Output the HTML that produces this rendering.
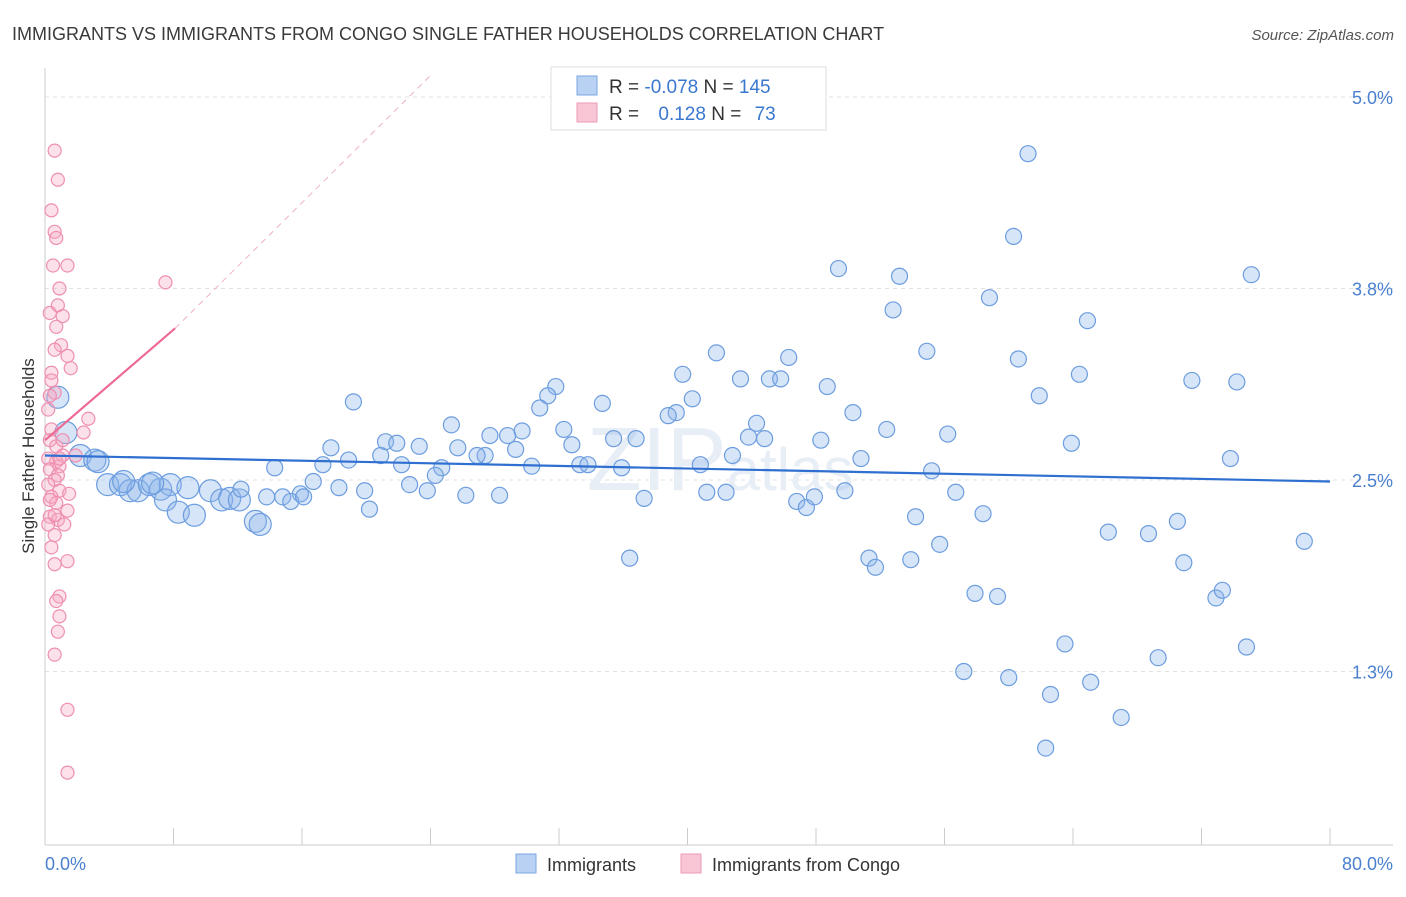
<!DOCTYPE html>
<html><head><meta charset="utf-8"><style>
body{margin:0;background:#fff;font-family:"Liberation Sans",sans-serif;}
svg text{font-family:"Liberation Sans",sans-serif;}
</style></head><body>
<svg id="chart" width="1406" height="892" xmlns="http://www.w3.org/2000/svg">
<text x="12" y="40" font-size="18" fill="#3a3a3a">IMMIGRANTS VS IMMIGRANTS FROM CONGO SINGLE FATHER HOUSEHOLDS CORRELATION CHART</text>
<text x="1394" y="40" font-size="15" fill="#555" text-anchor="end" font-style="italic">Source: ZipAtlas.com</text>
<g id="grid"></g>
<text x="720" y="490" font-size="90" fill="#e8eef6" text-anchor="middle" font-family="Liberation Serif">ZIP<tspan font-family="Liberation Sans" font-size="60">atlas</tspan></text>
<g id="marks"></g>
<text transform="translate(34,456) rotate(-90)" font-size="17" fill="#333" text-anchor="middle">Single Father Households</text>
<text x="45" y="870" font-size="18" fill="#4a7fd0">0.0%</text>
<text x="1393" y="870" font-size="18" fill="#4a7fd0" text-anchor="end">80.0%</text>
<g>
<rect x="551" y="67" width="275" height="63" fill="#fff" stroke="#ddd"/>
<rect x="577" y="76" width="20" height="19" fill="#b9d2f3" stroke="#7aa6e0"/>
<rect x="577" y="103" width="20" height="19" fill="#f9c6d6" stroke="#ee99b5"/>
<text x="609" y="93" font-size="19" fill="#333">R = <tspan fill="#3a78d0">-0.078</tspan>   N = <tspan fill="#3a78d0">145</tspan></text>
<text x="609" y="120" font-size="19" fill="#333">R =  <tspan fill="#3a78d0" dx="14">0.128</tspan>   N =  <tspan fill="#3a78d0" dx="8">73</tspan></text>
</g>
<g>
<rect x="516" y="854" width="20" height="19" fill="#b9d2f3" stroke="#7aa6e0"/>
<text x="547" y="871" font-size="18" fill="#333">Immigrants</text>
<rect x="681" y="854" width="20" height="19" fill="#f9c6d6" stroke="#ee99b5"/>
<text x="712" y="871" font-size="18" fill="#333">Immigrants from Congo</text>
</g>
</svg>
<script>
const yTicks=[5.0,3.75,2.5,1.25];
const yTickLabels=["5.0%","3.8%","2.5%","1.3%"];
const xTicks=[0,8,16,24,32,40,48,56,64,72,80];
const blueX=[61.2,60.3,49.4,53.2,75.1,58.8,52.8,64.9,41.8,54.9,46.3,60.6,39.7,43.3,45.1,45.8,48.7,64.4,71.4,74.2,31.8,31.3,19.2,34.7,40.3,61.9,30.8,39.3,50.3,38.8,44.3,25.3,32.3,52.4,29.7,27.7,28.8,35.4,36.8,43.8,44.8,56.2,21.2,21.9,48.3,63.9,17.8,23.3,25.7,32.8,29.3,27.4,26.9,20.9,42.8,50.8,73.8,17.3,18.9,22.2,30.3,33.3,33.8,40.8,35.9,14.3,24.7,24.3,55.2,16.7,22.7,23.8,18.3,19.9,26.2,28.3,12.2,15.9,41.2,42.4,49.8,56.7,37.3,13.8,14.8,15.3,16.1,46.8,47.4,47.9,20.2,58.4,54.2,70.5,66.2,68.7,78.4,55.7,36.4,51.3,53.9,51.7,70.9,57.9,59.3,72.9,73.3,63.5,74.8,69.3,57.2,60.0,65.1,62.6,67.0,62.3];
const blueY=[4.63,4.09,3.88,3.83,3.84,3.69,3.61,3.54,3.33,3.34,3.30,3.29,3.19,3.16,3.16,3.16,3.11,3.19,3.15,3.14,3.11,3.05,3.01,3.00,3.03,3.05,2.97,2.94,2.94,2.92,2.87,2.86,2.83,2.83,2.82,2.79,2.79,2.77,2.77,2.78,2.77,2.80,2.75,2.74,2.76,2.74,2.71,2.72,2.71,2.73,2.70,2.66,2.66,2.66,2.66,2.64,2.64,2.60,2.63,2.60,2.59,2.60,2.60,2.60,2.58,2.58,2.58,2.53,2.56,2.49,2.47,2.43,2.45,2.43,2.40,2.40,2.44,2.41,2.42,2.42,2.43,2.42,2.38,2.39,2.39,2.36,2.39,2.36,2.32,2.39,2.31,2.28,2.26,2.23,2.16,2.15,2.10,2.08,1.99,1.99,1.98,1.93,1.96,1.76,1.74,1.73,1.78,1.43,1.41,1.34,1.25,1.21,1.18,1.10,0.95,0.75];
const blueBigX=[0.8,1.3,2.2,3.1,3.9,4.7,5.3,5.8,6.5,7.2,7.8,8.9,7.5,8.3,9.3,10.3,11.0,11.5,12.1,13.1,13.4,3.3,4.9,6.7];
const blueBigY=[3.04,2.81,2.66,2.63,2.47,2.47,2.43,2.43,2.47,2.44,2.47,2.45,2.37,2.29,2.27,2.43,2.37,2.38,2.37,2.23,2.21,2.62,2.49,2.48];
const pinkX=[0.6,0.8,0.4,0.6,0.7,0.5,1.4,0.9,0.8,1.1,0.7,0.3,1.0,0.6,1.4,1.6,0.4,0.6,0.3,2.7,0.4,2.4,0.3,0.7,1.1,0.2,0.7,0.9,0.3,0.8,0.6,0.2,0.9,1.5,0.4,0.7,1.4,0.3,0.8,1.2,0.2,0.6,0.4,1.4,0.6,0.9,0.7,0.9,0.8,0.6,1.4,1.4,7.5,1.9,0.9,0.3,0.6,1.1,0.2,0.4];
const pinkY=[4.65,4.46,4.26,4.12,4.08,3.90,3.90,3.75,3.64,3.57,3.50,3.59,3.38,3.35,3.31,3.23,3.20,3.07,3.05,2.90,2.83,2.81,2.76,2.72,2.66,2.64,2.62,2.59,2.57,2.53,2.50,2.47,2.43,2.41,2.39,2.35,2.30,2.26,2.24,2.21,2.21,2.14,2.06,1.97,1.95,1.74,1.71,1.61,1.51,1.36,1.00,0.59,3.79,2.66,2.64,2.37,2.27,2.76,2.96,3.15];
const blueTrend=[[0,2.66],[80,2.49]];
const pinkTrend=[[0,2.76],[8.1,3.49]];
const pinkDash=[[8.1,3.49],[24.0,5.14]];

const NS="http://www.w3.org/2000/svg";
const X=v=>45+v/80*1285;
const Y=v=>97+(5-v)*153.2;
function mk(t,a,p){const e=document.createElementNS(NS,t);for(const k in a)e.setAttribute(k,a[k]);p.appendChild(e);return e;}
const grid=document.getElementById('grid'),marks=document.getElementById('marks');
yTicks.forEach((t,i)=>{
  const l=mk('line',{x1:45,x2:1393,y1:Y(t),y2:Y(t),stroke:'#e2e2e2','stroke-dasharray':'4,4'},grid);
  
  
  const tx=mk('text',{x:1393,y:Y(t)+7,'font-size':18,fill:'#4a7fd0','text-anchor':'end'},grid);
  tx.textContent=yTickLabels[i];
  
  
});
const ax=mk('line',{x1:45,x2:45,y1:68,y2:845,stroke:'#ccc'},grid);


const bx=mk('line',{x1:45,x2:1393,y1:845,y2:845,stroke:'#ccc'},grid);


xTicks.forEach(t=>{
  const l=mk('line',{x1:X(t),x2:X(t),y1:828,y2:845,stroke:'#ccc'},grid);
  
  
});
function dots(xs,ys,r,fill,stroke,name){
  xs.forEach((x,i)=>{
    const c=mk('circle',{cx:X(x),cy:Y(ys[i]),r:r,fill:fill,stroke:stroke,'stroke-width':1.2},marks);
    
    
  });
}
dots(blueBigX,blueBigY,11,'rgba(140,180,235,0.35)','#6c9ddf','immigrants-point');
dots(blueX,blueY,8,'rgba(140,180,235,0.35)','#6c9ddf','immigrants-point');
dots(pinkX,pinkY,6.5,'rgba(245,170,195,0.35)','#ee8fb0','congo-point');
function ln(p,st,w,d,name){
  const l=mk('line',{x1:X(p[0][0]),y1:Y(p[0][1]),x2:X(p[1][0]),y2:Y(p[1][1]),stroke:st,'stroke-width':w},marks);
  if(d)l.setAttribute('stroke-dasharray',d);
  
  
}
ln(pinkDash,'#f0b0c5',1,'6,5','congo-trend-extension');
ln(blueTrend,'#2f6fd0',2.2,null,'immigrants-trend-line');
ln(pinkTrend,'#ec6a93',2.2,null,'congo-trend-line');
</script>
</body></html>
